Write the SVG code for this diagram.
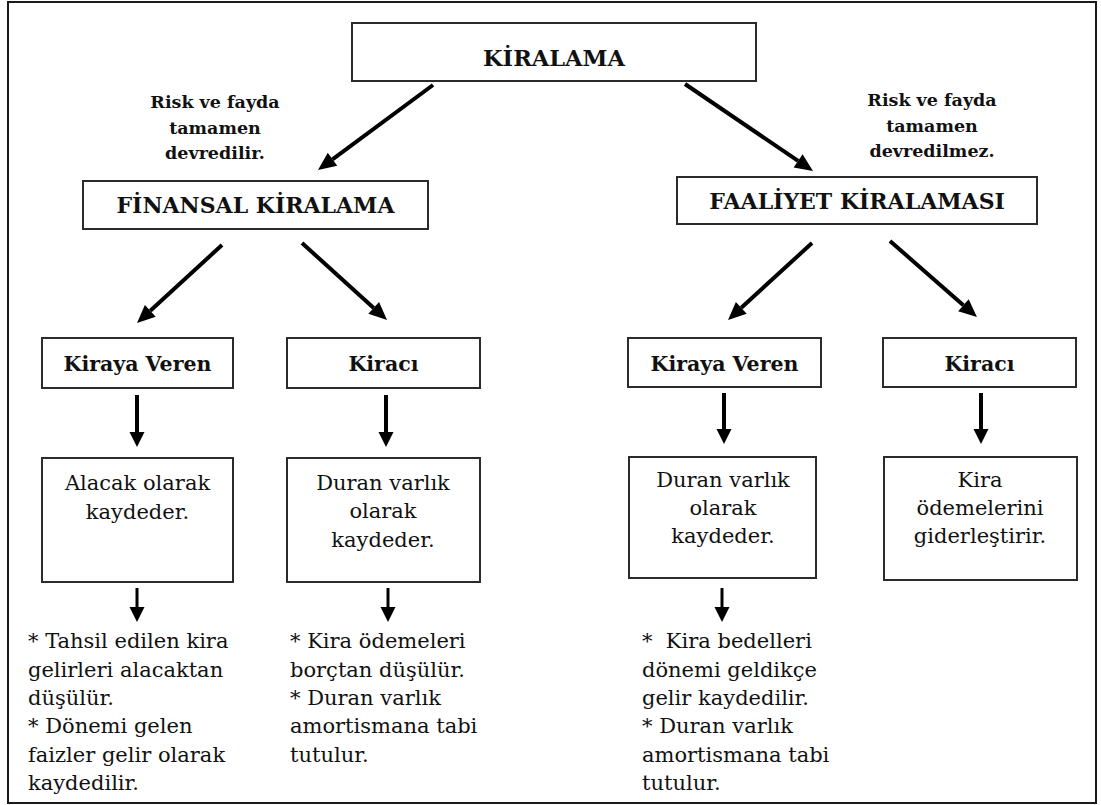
<svg xmlns="http://www.w3.org/2000/svg" width="1101" height="805" viewBox="0 0 1101 805">
  <style>
    .box { fill: #ffffff; stroke: #2b2b2b; stroke-width: 2; }
    .hdr { font-family: 'DejaVu Serif', serif; font-weight: bold; fill: #111; text-anchor: middle; }
    .note { font-family: 'DejaVu Serif', serif; font-weight: bold; font-size: 17.5px; fill: #111; text-anchor: middle; }
    .body { font-family: 'DejaVu Serif', serif; font-size: 21px; fill: #111; }
    .mid { text-anchor: middle; }
    .diag { stroke: #000; stroke-width: 4; fill: none; marker-end: url(#headL); }
    .down { stroke: #000; stroke-width: 4; fill: none; marker-end: url(#headS); }
    .down2 { stroke: #000; stroke-width: 3; fill: none; marker-end: url(#headS); }
  </style>
  <defs>
    <marker id="headL" markerUnits="userSpaceOnUse" markerWidth="20" markerHeight="18" refX="0" refY="8" orient="auto" overflow="visible">
      <path d="M0,0 L18,8 L0,16 z" fill="#000"/>
    </marker>
    <marker id="headS" markerUnits="userSpaceOnUse" markerWidth="16" markerHeight="16" refX="0" refY="7.5" orient="auto" overflow="visible">
      <path d="M0,0 L15,7.5 L0,15 z" fill="#000"/>
    </marker>
  </defs>

  <rect width="1101" height="805" fill="#ffffff"/>
  <!-- outer frame -->
  <rect x="8" y="2" width="1088" height="801" fill="none" stroke="#1a1a1a" stroke-width="2"/>

  <!-- connectors -->
  <g id="connectors">
    <line class="diag" x1="433" y1="85" x2="332.5" y2="159.3"/>
    <line class="diag" x1="685" y1="84" x2="798.1" y2="160.9"/>
    <line class="diag" x1="222" y1="245" x2="150.3" y2="310.8"/>
    <line class="diag" x1="302" y1="243" x2="373.7" y2="307.9"/>
    <line class="diag" x1="812" y1="243" x2="741.3" y2="307.8"/>
    <line class="diag" x1="890" y1="241" x2="963.4" y2="305.2"/>
    <line class="down" x1="137" y1="395" x2="137" y2="432"/>
    <line class="down" x1="386" y1="395" x2="386" y2="432"/>
    <line class="down" x1="724" y1="393" x2="724" y2="429"/>
    <line class="down" x1="981" y1="393" x2="981" y2="429"/>
    <line class="down2" x1="137" y1="588" x2="137" y2="607"/>
    <line class="down2" x1="388" y1="588" x2="388" y2="607"/>
    <line class="down2" x1="722" y1="588" x2="722" y2="607"/>
  </g>

  <!-- root -->
  <g id="kiralama">
    <rect class="box" x="352" y="23" width="404" height="58"/>
    <text class="hdr" x="554" y="66" font-size="22.5">KİRALAMA</text>
  </g>

  <g id="label-left">
    <text class="note" x="215" y="108">Risk ve fayda</text>
    <text class="note" x="215" y="134">tamamen</text>
    <text class="note" x="215" y="159">devredilir.</text>
  </g>
  <g id="label-right">
    <text class="note" x="932" y="106">Risk ve fayda</text>
    <text class="note" x="932" y="132">tamamen</text>
    <text class="note" x="932" y="157">devredilmez.</text>
  </g>

  <!-- second level -->
  <g id="finansal">
    <rect class="box" x="83" y="181" width="345" height="48"/>
    <text class="hdr" x="255.5" y="213" font-size="22">FİNANSAL KİRALAMA</text>
  </g>
  <g id="faaliyet">
    <rect class="box" x="677" y="177" width="360" height="47"/>
    <text class="hdr" x="857" y="209" font-size="22">FAALİYET KİRALAMASI</text>
  </g>

  <!-- parties -->
  <g id="fin-kiraya-veren">
    <rect class="box" x="42" y="338" width="191" height="50"/>
    <text class="hdr" x="137.5" y="371" font-size="20.5">Kiraya Veren</text>
  </g>
  <g id="fin-kiraci">
    <rect class="box" x="287" y="338" width="193" height="50"/>
    <text class="hdr" x="383.5" y="371" font-size="20.5">Kiracı</text>
  </g>
  <g id="op-kiraya-veren">
    <rect class="box" x="628" y="338" width="193" height="49"/>
    <text class="hdr" x="724.5" y="371" font-size="20.5">Kiraya Veren</text>
  </g>
  <g id="op-kiraci">
    <rect class="box" x="883" y="338" width="193" height="49"/>
    <text class="hdr" x="979.5" y="371" font-size="20.5">Kiracı</text>
  </g>

  <!-- recording boxes -->
  <g id="fin-kv-kayit">
    <rect class="box" x="42" y="458" width="191" height="124"/>
    <text class="body mid" x="137.5" y="490">Alacak olarak</text>
    <text class="body mid" x="137.5" y="519">kaydeder.</text>
  </g>
  <g id="fin-kiraci-kayit">
    <rect class="box" x="287" y="458" width="193" height="124"/>
    <text class="body mid" x="383" y="490">Duran varlık</text>
    <text class="body mid" x="383" y="518">olarak</text>
    <text class="body mid" x="383" y="547">kaydeder.</text>
  </g>
  <g id="op-kv-kayit">
    <rect class="box" x="629" y="457" width="187" height="121"/>
    <text class="body mid" x="723" y="487">Duran varlık</text>
    <text class="body mid" x="723" y="515">olarak</text>
    <text class="body mid" x="723" y="543">kaydeder.</text>
  </g>
  <g id="op-kiraci-kayit">
    <rect class="box" x="884" y="457" width="193" height="123"/>
    <text class="body mid" x="980" y="487">Kira</text>
    <text class="body mid" x="980" y="515">ödemelerini</text>
    <text class="body mid" x="980" y="543">giderleştirir.</text>
  </g>

  <!-- explanatory notes -->
  <g id="fin-kv-notlar">
    <text class="body" x="28" y="648">* Tahsil edilen kira</text>
    <text class="body" x="28" y="677">gelirleri alacaktan</text>
    <text class="body" x="28" y="705">düşülür.</text>
    <text class="body" x="28" y="733">* Dönemi gelen</text>
    <text class="body" x="28" y="762">faizler gelir olarak</text>
    <text class="body" x="28" y="790">kaydedilir.</text>
  </g>
  <g id="fin-kiraci-notlar">
    <text class="body" x="290" y="648">* Kira ödemeleri</text>
    <text class="body" x="290" y="677">borçtan düşülür.</text>
    <text class="body" x="290" y="705">* Duran varlık</text>
    <text class="body" x="290" y="733">amortismana tabi</text>
    <text class="body" x="290" y="762">tutulur.</text>
  </g>
  <g id="op-kv-notlar">
    <text class="body" x="642" y="648" xml:space="preserve">*  Kira bedelleri</text>
    <text class="body" x="642" y="677">dönemi geldikçe</text>
    <text class="body" x="642" y="705">gelir kaydedilir.</text>
    <text class="body" x="642" y="733">* Duran varlık</text>
    <text class="body" x="642" y="762">amortismana tabi</text>
    <text class="body" x="642" y="790">tutulur.</text>
  </g>
</svg>
